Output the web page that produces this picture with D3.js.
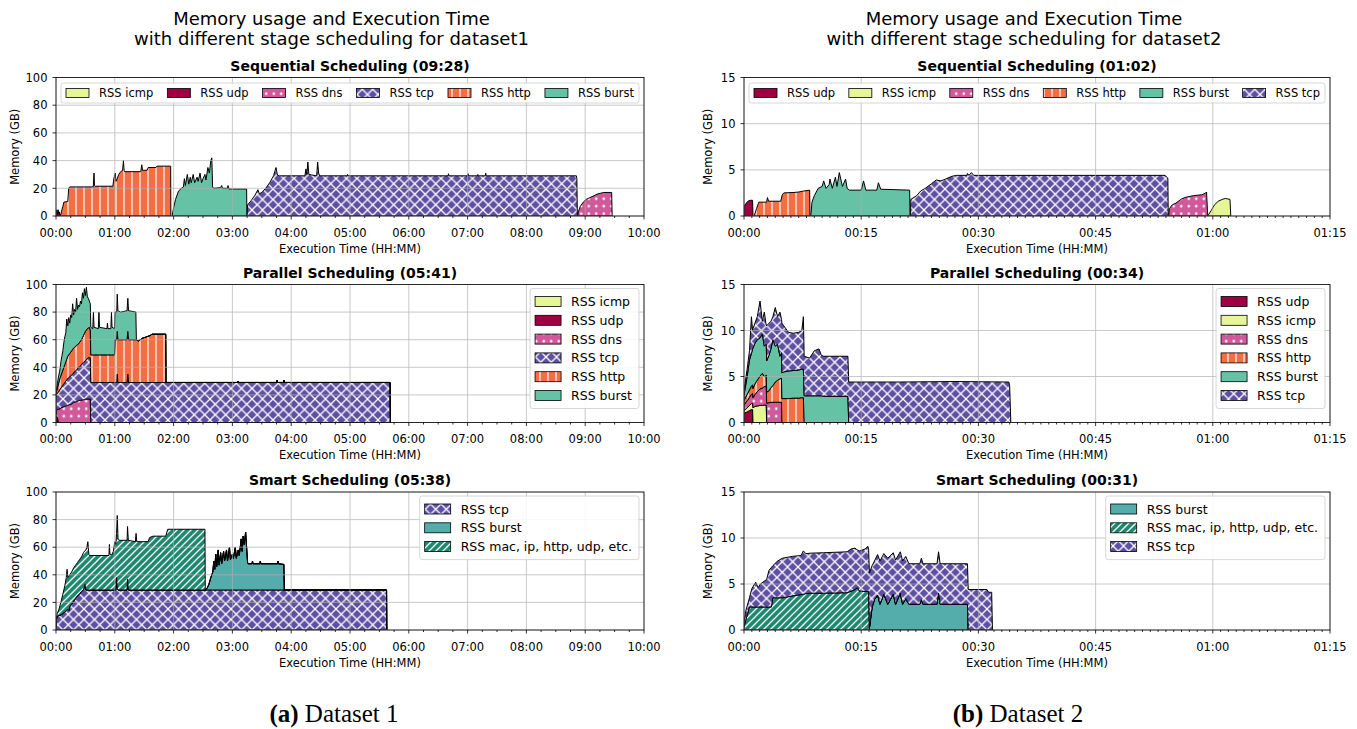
<!DOCTYPE html>
<html><head><meta charset="utf-8">
<script src="https://cdn.jsdelivr.net/npm/d3@7"></script>
<style>body{margin:0;background:#fff} svg text{font-family:"DejaVu Sans",sans-serif}</style>
</head><body>
<svg id="c" width="1357" height="729"></svg>
<script>
// ---------------- DATA (time in minutes, memory in GB) ----------------
const d1XTicks = [0,60,120,180,240,300,360,420,480,540,600];
const d2XTicks = [0,15,30,45,60,75];
const d1YTicks = [0,20,40,60,80,100];
const d2YTicks = [0,5,10,15];
const suptitles = ["Memory usage and Execution Time", "with different stage scheduling for dataset1", "with different stage scheduling for dataset2"];
const panelTitles = ["Sequential Scheduling (09:28)","Parallel Scheduling (05:41)","Smart Scheduling (05:38)",
                     "Sequential Scheduling (01:02)","Parallel Scheduling (00:34)","Smart Scheduling (00:31)"];

// Dataset 1 - sequential ([minute, GB])
const d1SeqUdp = [[0,0],[0.3,2.5],[0.9,4.5],[1.5,1],[2.2,4.5],[2.8,1.5],[3.4,3],[3.8,0]];
const d1SeqIcmp = [[3.8,0],[4.1,1.2],[4.4,1.0],[4.6,0]];
const d1SeqHttp = [[4.5,0],[5.5,3],[7,7],[8,10],[12,10.5],[13,20],[14,21],[38,21],[38.8,31],[39.3,22],[40,21.5],[58,21.5],[59,27],[60.5,31],[61.2,25],[62.5,27],[64,30],[66,32],[68,33],[68.8,40],[69.5,33],[70,32],[86.5,32],[87.5,37],[88.3,33],[93,33],[94,35],[102,35],[103,36],[117,36],[117.2,0]];
const d1SeqBurst = [[118.5,0],[120,6],[122,12],[125,18],[128,20],[130,21],[131,27],[132,22],[134,30],[135.5,23],[137,28],[138,24],[140,30],[141.5,24],[144,28],[145,25],[147,31],[148.5,24],[150,27],[152,30],[153,26],[155,35],[156.5,31],[158,40],[159,42],[159.8,21],[161,20],[168,20.5],[169,22],[170,20],[175,20],[175.5,22],[176.5,19.5],[194.5,19.5],[194.8,0]];
const d1SeqTcp = [[195,0],[195.5,8],[199,11],[203,15],[206,19],[207.5,16],[210,17],[214,20],[218,24],[222,29],[224.5,35],[226,29.5],[228,29],[254,29],[255,34],[256,30],[257,39],[258,30],[266,29],[267,39],[268,31],[269,29],[297,29],[297.5,30],[298,29],[400,29],[400.5,30.5],[401,29],[420,29],[420.5,30.5],[421,29],[430,29],[430.5,30],[431,29],[438,29],[438.5,31],[439,29],[531,29],[531.5,27],[532,0]];
const d1SeqDns = [[532.5,0],[533,3],[535,7],[538,10],[541,12],[544,13],[547,14],[550,15],[553,16],[556,16.5],[559,17],[567,17],[567.5,0]];

// Dataset 1 - parallel (common time grid, stacked icmp, udp, dns, tcp, http, burst)
const d1ParTime = [0,0.5,1.5,2.5,4,5,6,7,8,9, 10,11,12,13,14,15,16,17,18,19, 20,21,22,23,24,25,26,27,28,29,
  30,31,32,33,34,35,35.5,37.5,38.2,38.8, 43.2,43.8,44.4,52,52.5,53,56,56.6,57.2,59.7, 60.2,62,62.5,63.2,66,72.5,73.3,74,81.5,82,
  84,86,88,92,96,98,112,112.3,185,185.5, 186,225,225.5,226,232,232.5,233,340.8,341,341.2];
const d1ParIcmp = [0.5,0.5,0.5,0,0,0,0,0,0,0, 0,0,0,0,0,0,0,0,0,0, 0,0,0,0,0,0,0,0,0,0, 0,0,0,0,0,0,0,0,0,0,
  0,0,0,0,0,0,0,0,0,0, 0,0,0,0,0,0,0,0,0,0, 0,0,0,0,0,0,0,0,0,0, 0,0,0,0,0,0,0,0,0,0];
const d1ParUdp = [3,4,3,0,0,0,0,0,0,0, 0,0,0,0,0,0,0,0,0,0, 0,0,0,0,0,0,0,0,0,0, 0,0,0,0,0,0,0,0,0,0,
  0,0,0,0,0,0,0,0,0,0, 0,0,0,0,0,0,0,0,0,0, 0,0,0,0,0,0,0,0,0,0, 0,0,0,0,0,0,0,0,0,0];
const d1ParDns = [2,4,6,9.5,10,10.5,11,11.2,11.5,11.8, 12,12.2,12.5,12.8,13,13.2,13.5,14,14.5,14.8, 15,15.2,15.5,15.8,16,16.1,16.2,16.4,16.5,16.8,
  17,17,17,17,17,17,0,0,0,0, 0,0,0,0,0,0,0,0,0,0, 0,0,0,0,0,0,0,0,0,0, 0,0,0,0,0,0,0,0,0,0, 0,0,0,0,0,0,0,0,0,0];
const d1ParTcp = [13,12,12,12.5,14,14.5,15,15.8,16.5,17.2, 18,18.8,19.5,19.7,20,20.8,21,21,21.5,22.2, 22.5,22.8,23.5,24.2,24.5,24.9,25.8,26.6,27,27.2,
  28,28.5,29.5,30,30,30,29,29,29,29, 29,29,29,29,29,29,29,29,29,29, 29,29,35,29,29,29,35,29,29,29,
  29,29,29,29,29,29,29,29,29,30, 29,29,30.5,29,29,30.5,29,29,28,0];
const d1ParHttp = [1,2,4,6,8,9,10,11,12,13, 14,15,16,16.5,17,17,17.5,18,18,17.5, 17.5,18,17.5,17,17.5,18,18,18.5,19.5,20.5,
  21,21.5,21.5,21.5,22,20,20,20,20,20, 20,20,20,20,20,20,20,20,20,20, 31,31,31,31,31,31,31,31,31,31,
  30,31,32,33,34,35,35,0,0,0, 0,0,0,0,0,0,0,0,0,0];
const d1ParBurst = [1,1,3,5,6,10,12,14,18,20, 21,29,22,27,22,27,24,33,24,27.5, 25,34,25.5,28,26,29,26,32.5,27,32.5,
  26,31,23,21.5,19,19,20,19,31,20, 19,31,20,19,23,19,19,31,20,19, 20,20,27,21,20,21,24,21,20,0,
  0,0,0,0,0,0,0,0,0,0, 0,0,0,0,0,0,0,0,0,0];

// Dataset 1 - smart (stacked tcp, burst, mac...)
const d1SmartTime = [0,0.5,1.3,3,5,7,9,10.5,11.3,12, 13,14,16,18,20,22,24,26,28,29.5, 30.5,31.5,32.5,33.5,34,54,54.5,55,57,58.5,
  60,61,61.8,62.5,63.3,65,72.5,73,73.8,81, 81.7,82.4,94,95.5,99,112,114,152,152.3,154, 156,158,160,161,162,163,164,165.5,166.5,168,
  169,171,172,174,175,177,178,180,181,183, 184,186,187,189,190,191,192,193.5,194.5,195.5, 196,200,200.5,201,208,208.5,209,226,226.5,227,
  232.5,233,337.3,337.5];
const d1SmartTcp = [2,8,10,10.5,11,12,13,14,14.5,15, 14,17,19,21,23,25,26,28,29,33, 29,29,29,29,29,29,29,29,29,29,
  29,29,38,30,29,29,29,37,29,29, 29,29,29,29,29,29,29,29,29,29, 29,29,29,29,29,29,29,29,29,29,
  29,29,29,29,29,29,29,29,29,29, 29,29,29,29,29,29,29,29,29,29, 29,29,29,29,29,29,29,29,29,29, 29,29,29,0];
const d1SmartBurst = [0,0,0,0,0,0,0,0,0,0, 0,0,0,0,0,0,0,0,0,0, 0,0,0,0,0,0,0,0,0,0, 0,0,0,0,0,0,0,0,0,0,
  0,0,0,0,0,0,0,0,0,1, 4,9,13,21,15,26,17,29,18,27, 19,28,21,29,21,31,22,26,23,31, 23,29,25,37,28,39,33,42,31,20,
  19,19,21,19,19,21,19,19,21,19, 18.5,0,0,0];
const d1SmartMac = [2,1,2,4.5,9,14,19,24,29.5,23, 25,23,23,24,24,24,25,25,27,24.5, 29,31,35,26,25,25,33,26,25.5,28,
  35,33,32,53,37,36,36,38,36,35, 41,35,35,38,39,39,44,44,0,0, 0,0,0,0,0,0,0,0,0,0,
  0,0,0,0,0,0,0,0,0,0, 0,0,0,0,0,0,0,0,0,0, 0,0,0,0,0,0,0,0,0,0, 0,0,0,0];

// Dataset 2 - sequential
const d2SeqUdp = [[0,0],[0.02,1.0],[0.2,1.3],[0.5,1.6],[0.8,1.7],[1.1,1.7],[1.15,0]];
const d2SeqHttp = [[1.3,0],[1.6,0.8],[1.9,1.5],[2.9,1.5],[3.0,2.0],[3.15,1.6],[4.7,1.6],[4.9,2.3],[5.1,2.5],[6.4,2.55],[7.0,2.6],[7.6,2.7],[8.4,2.8],[8.45,0]];
const d2SeqBurst = [[8.55,0],[8.7,1.5],[9.0,2.2],[9.5,3.0],[10.0,3.2],[10.2,3.8],[10.5,3.0],[10.9,3.4],[11.0,4.0],[11.3,3.0],[11.7,4.2],[11.9,3.2],[12.2,4.7],[12.6,3.2],[13.0,4.0],[13.2,3.0],[13.5,2.8],[15.0,2.8],[15.3,3.8],[15.6,2.8],[17.0,2.8],[17.2,3.6],[17.5,2.9],[21.2,2.8],[21.25,0]];
const d2SeqTcp = [[21.3,0],[21.35,1.8],[22.1,2.2],[22.6,2.7],[23.2,3.0],[24.0,3.5],[24.6,3.9],[25.2,3.8],[25.8,4.0],[26.6,4.3],[27.2,4.4],[28.5,4.4],[28.6,4.6],[28.8,4.4],[29.1,4.7],[29.4,4.4],[53.9,4.4],[54.1,4.2],[54.25,4.1],[54.3,0]];
const d2SeqDns = [[54.35,0],[54.45,0.8],[54.8,1.2],[55.3,1.4],[55.9,1.8],[56.4,2.0],[57.5,2.2],[58.6,2.3],[59.1,2.5],[59.2,2.6],[59.35,0]];
const d2SeqIcmp = [[59.35,0],[59.8,0.6],[60.2,1.2],[60.7,1.6],[61.2,1.8],[61.6,1.9],[62.2,1.8],[62.3,0]];

// Dataset 2 - parallel (stacked udp, icmp, dns, http, burst, tcp)
const d2ParTime = [0,0.4,0.7,0.95,1.1,1.15,1.4,1.7,2.05,2.35, 2.6,2.8,2.85,2.9,3.2,3.45,3.7,4.0,4.3,4.6,
  4.8,4.85,5.1,5.7,6.3,7.0,7.4,7.6,7.7,8.4, 9.0,9.6,9.9,10.2,13.3,13.4,20,27,33.9,34.0, 34.15];
const d2ParUdp = [1.0,1.15,1.3,1.4,1.4,0,0,0,0,0, 0,0,0,0,0,0,0,0,0,0, 0,0,0,0,0,0,0,0,0,0, 0,0,0,0,0,0,0,0,0,0, 0];
const d2ParIcmp = [0.3,0.45,0.55,0.65,0.7,1.6,1.75,1.8,1.85,1.85, 1.9,1.9,1.9,0,0,0,0,0,0,0, 0,0,0,0,0,0,0,0,0,0, 0,0,0,0,0,0,0,0,0,0, 0];
const d2ParDns = [0.6,0.75,0.9,1.0,1.05,1.1,1.3,1.55,1.8,1.9, 2.0,2.05,2.1,2.1,2.15,2.2,2.2,2.2,2.2,2.2, 2.2,0,0,0,0,0,0,0,0,0, 0,0,0,0,0,0,0,0,0,0, 0];
const d2ParHttp = [0.5,0.7,0.8,0.9,0.95,1.0,1.15,1.25,1.4,1.6, 1.1,1.1,1.15,1.2,1.3,1.6,1.8,2.2,2.4,2.55, 2.6,2.6,2.6,2.6,2.65,2.65,2.7,2.7,0,0, 0,0,0,0,0,0,0,0,0,0, 0];
const d2ParBurst = [0.6,1.95,3.25,3.55,3.9,4.4,4.4,4.4,4.15,4.25, 3.3,3.45,3.35,3.4,3.85,4.2,5.0,3.9,3.9,2.45, 2.8,2.8,2.9,3.0,3.0,3.05,3.1,3.1,2.9,2.9, 2.9,2.9,2.9,2.85,2.85,0,0,0,0,0, 0];
const d2ParTcp = [0.5,0.8,1.0,4.0,2.0,2.1,2.2,2.5,4.0,1.4, 3.7,2.3,2.1,3.8,3.5,3.0,2.5,4.2,3.0,4.8, 3.6,5.4,5.0,4.2,4.05,4.1,4.2,5.7,4.3,4.1, 4.9,5.1,4.4,4.35,4.35,4.4,4.4,4.45,4.4,4.0, 0];

// Dataset 2 - smart (stacked burst, mac..., tcp)
const d2SmartTime = [0,0.2,0.7,1.0,1.5,1.8,2.1,2.9,3.2,3.5, 3.7,4.3,4.9,6.2,7.3,7.6,7.9,8.5,10.2,13.2,
  13.7,14.2,14.5,14.8,15.5,15.85,15.95,16.05,16.4,16.7, 17.1,17.4,17.9,18.4,19.1,19.4,20.0,20.3,20.7,21.1,
  22.5,22.7,22.9,24.7,24.9,25.1,28.6,28.7,31.1,31.3, 31.7,31.8];
const d2SmartBurst = [0,0,0,0,0,0,0,0,0,0, 0,0,0,0,0,0,0,0,0,0, 0,0,0,0,0,0,0,0.2,2.5,3.3,
  3.8,2.8,3.9,2.8,3.9,2.8,4.0,2.8,3.4,2.8, 2.8,3.3,2.8,2.8,4.0,2.8,2.8,0,0,0, 0,0];
const d2SmartMac = [0.3,1.0,2.5,2.5,2.5,2.5,2.5,2.5,2.5,2.5, 3.5,3.5,3.5,3.7,3.85,3.9,3.95,4.0,4.0,4.05,
  4.2,4.4,4.6,4.2,4.2,4.2,4.2,0,0,0, 0,0,0,0,0,0,0,0,0,0, 0,0,0,0,0,0,0,0,0,0, 0,0];
const d2SmartTcp = [0.5,1.0,1.0,2.0,2.7,2.1,2.5,3.0,4.0,4.3, 3.5,4.0,4.3,4.3,4.25,4.7,4.35,4.35,4.4,4.45,
  4.6,4.5,4.1,4.4,4.6,4.9,4.6,6.0,4.5,4.2, 4.4,4.7,4.4,5.0,4.5,4.8,4.5,4.7,4.6,4.4,
  4.4,4.5,4.4,4.4,4.5,4.4,4.4,4.4,4.4,4.1, 4.1,0];

// ---------------- STYLE ----------------
const COLORS = {icmp:'#e6f598', udp:'#9e0142', dns:'#d1589a', tcp:'#5e4fa2', http:'#f46d43', burst:'#66c2a5', burstS:'#55adab', mac:'#1b8a6e'};
const FILL = {icmp:COLORS.icmp, udp:COLORS.udp, dns:'url(#p-dns)', tcp:'url(#p-tcp)', http:'url(#p-http)', burst:COLORS.burst, burstS:COLORS.burstS, mac:'url(#p-mac)'};
const LABEL = {icmp:'RSS icmp', udp:'RSS udp', dns:'RSS dns', tcp:'RSS tcp', http:'RSS http', burst:'RSS burst', burstS:'RSS burst', mac:'RSS mac, ip, http, udp, etc.'};

const svg = d3.select('#c');
const defs = svg.append('defs');
{
  const s = 10.5;
  const p1 = defs.append('pattern').attr('id','p-tcp').attr('patternUnits','userSpaceOnUse').attr('width',s).attr('height',s);
  p1.append('rect').attr('width',s).attr('height',s).attr('fill',COLORS.tcp);
  p1.append('path').attr('d',`M0,0L${s},${s}M${s},0L0,${s}`).attr('stroke','#fff').attr('stroke-width',1.3);
  const p2 = defs.append('pattern').attr('id','p-http').attr('patternUnits','userSpaceOnUse').attr('width',8).attr('height',10);
  p2.append('rect').attr('width',8).attr('height',10).attr('fill',COLORS.http);
  p2.append('path').attr('d','M4,0L4,10').attr('stroke','#fff').attr('stroke-width',1.2);
  const p3 = defs.append('pattern').attr('id','p-dns').attr('patternUnits','userSpaceOnUse').attr('width',7.5).attr('height',7.5);
  p3.append('rect').attr('width',7.5).attr('height',7.5).attr('fill',COLORS.dns);
  p3.append('circle').attr('cx',3.75).attr('cy',3.75).attr('r',1.3).attr('fill','#fff');
  const p4 = defs.append('pattern').attr('id','p-mac').attr('patternUnits','userSpaceOnUse').attr('width',7).attr('height',7);
  p4.append('rect').attr('width',7).attr('height',7).attr('fill',COLORS.mac);
  p4.append('path').attr('d','M0,7L7,0M-1,1L1,-1M6,8L8,6').attr('stroke','#fff').attr('stroke-width',1.3);
}

const fmtHM = m => String(Math.floor(m/60)).padStart(2,'0') + ':' + String(m%60).padStart(2,'0');
let clipN = 0;
const TICK_FS = 11.5;

function drawPanel(p) {
  const x = d3.scaleLinear().domain([0, p.xMax]).range([p.x0, p.x1]);
  const y = d3.scaleLinear().domain([0, p.yMax]).range([p.y1, p.y0]);
  const id = 'clip' + (++clipN);
  defs.append('clipPath').attr('id', id).append('rect')
    .attr('x', p.x0).attr('y', p.y0).attr('width', p.x1 - p.x0).attr('height', p.y1 - p.y0);
  const g = svg.append('g');
  const plot = g.append('g').attr('clip-path', `url(#${id})`);

  if (p.stack) {
    const rows = p.stack.time.map((t, i) => {
      const r = {t};
      p.stack.keys.forEach((k, j) => r[k] = p.stack.values[j][i]);
      return r;
    });
    const series = d3.stack().keys(p.stack.keys)(rows);
    const area = d3.area().x(d => x(d.data.t)).y0(d => y(d[0])).y1(d => y(d[1]));
    plot.selectAll('path.s').data(series).join('path')
      .attr('d', area).attr('fill', d => FILL[p.stack.fills[d.index]])
      .attr('stroke', '#000').attr('stroke-width', 1).attr('stroke-linejoin', 'round');
  }
  if (p.seq) {
    const area = d3.area().x(d => x(d[0])).y0(y(0)).y1(d => y(d[1]));
    p.seq.forEach(s => {
      plot.append('path').datum(s.data).attr('d', area).attr('fill', FILL[s.key])
        .attr('stroke', '#000').attr('stroke-width', 1).attr('stroke-linejoin', 'round');
    });
  }
  // grid (drawn above fills like matplotlib)
  const grid = g.append('g').attr('stroke', '#b0b0b0').attr('stroke-width', 0.8).attr('opacity', 0.85);
  p.xTicks.forEach(v => grid.append('line').attr('x1', x(v)).attr('x2', x(v)).attr('y1', p.y0).attr('y2', p.y1));
  p.yTicks.forEach(v => grid.append('line').attr('x1', p.x0).attr('x2', p.x1).attr('y1', y(v)).attr('y2', y(v)));
  // frame
  g.append('rect').attr('x', p.x0).attr('y', p.y0).attr('width', p.x1 - p.x0).attr('height', p.y1 - p.y0)
    .attr('fill', 'none').attr('stroke', '#000').attr('stroke-width', 0.8);
  // ticks
  const tk = g.append('g').attr('stroke', '#000').attr('stroke-width', 0.8);
  p.xTicks.forEach(v => tk.append('line').attr('x1', x(v)).attr('x2', x(v)).attr('y1', p.y1).attr('y2', p.y1 + 3.5));
  d3.range(0, p.xMax + 0.001, p.minor).filter(v => !p.xTicks.includes(v))
    .forEach(v => tk.append('line').attr('x1', x(v)).attr('x2', x(v)).attr('y1', p.y1).attr('y2', p.y1 + 2));
  p.yTicks.forEach(v => tk.append('line').attr('x1', p.x0 - 3.5).attr('x2', p.x0).attr('y1', y(v)).attr('y2', y(v)));
  // tick labels
  p.xTicks.forEach(v => g.append('text').attr('x', x(v)).attr('y', p.y1 + 20.5).attr('text-anchor', 'middle')
    .attr('font-size', TICK_FS).text(fmtHM(v)));
  p.yTicks.forEach(v => g.append('text').attr('x', p.x0 - 8.5).attr('y', y(v) + 4.2).attr('text-anchor', 'end')
    .attr('font-size', TICK_FS).text(v));
  // axis labels
  g.append('text').attr('x', (p.x0 + p.x1) / 2).attr('y', p.y1 + 36.5).attr('text-anchor', 'middle')
    .attr('font-size', 11.5).text('Execution Time (HH:MM)');
  const ym = (p.y0 + p.y1) / 2;
  g.append('text').attr('transform', `translate(${p.ylabX + 4},${ym}) rotate(-90)`).attr('text-anchor', 'middle')
    .attr('font-size', 11.5).text('Memory (GB)');
  // title
  g.append('text').attr('x', (p.x0 + p.x1) / 2).attr('y', p.y0 - 7).attr('text-anchor', 'middle')
    .attr('font-size', 14).attr('font-weight', 'bold').text(p.title);
  // legend
  if (p.legend.mode === 'row') legendRow(p.legend.keys, p.x0 + 5, p.x1 - 5, p.y0 + 5.5, 11.5);
  else legendCol(p.legend.keys, p.x1 - 5, p.y0 + 4, 12.5);
}

function legendFrame(g) {
  return g.append('rect').attr('rx', 2.5).attr('fill', 'white').attr('fill-opacity', 0.85)
    .attr('stroke', '#cccccc').attr('stroke-width', 0.8);
}
function legendRow(keys, x0, x1, yTop, fs) {
  const g = svg.append('g');
  const h = 20, pw = 23, ph = 9, gap = 10, pad = 5;
  legendFrame(g).attr('x', x0).attr('y', yTop).attr('width', x1 - x0).attr('height', h);
  const cy = yTop + h / 2;
  const texts = keys.map(k => g.append('text').attr('font-size', fs).attr('y', cy + fs * 0.36).text(LABEL[k]));
  const widths = texts.map(t => t.node().getComputedTextLength());
  const total = d3.sum(widths) + keys.length * (pw + gap);
  const space = (x1 - x0 - 2 * pad - total) / (keys.length - 1);
  let cx = x0 + pad;
  keys.forEach((k, i) => {
    g.append('rect').attr('x', cx).attr('y', cy - ph / 2).attr('width', pw).attr('height', ph)
      .attr('fill', FILL[k]).attr('stroke', '#000').attr('stroke-width', 0.8);
    texts[i].attr('x', cx + pw + gap);
    cx += pw + gap + widths[i] + space;
  });
}
function legendCol(keys, xRight, yTop, fs) {
  const g = svg.append('g');
  const pw = 26, ph = 10, gap = 10, padL = 5, padR = 7, rowH = 18.8, first = 13;
  const frame = legendFrame(g);
  const texts = keys.map((k, i) => g.append('text').attr('font-size', fs)
    .attr('y', yTop + first + i * rowH + fs * 0.36).text(LABEL[k]));
  const maxW = d3.max(texts, t => t.node().getComputedTextLength());
  const w = padL + pw + gap + maxW + padR, h = 2 * first + rowH * (keys.length - 1);
  const bx = xRight - w;
  frame.attr('x', bx).attr('y', yTop).attr('width', w).attr('height', h);
  keys.forEach((k, i) => {
    const cy = yTop + first + i * rowH;
    g.append('rect').attr('x', bx + padL).attr('y', cy - ph / 2).attr('width', pw).attr('height', ph)
      .attr('fill', FILL[k]).attr('stroke', '#000').attr('stroke-width', 0.8);
    texts[i].attr('x', bx + padL + pw + gap);
  });
}

// ---------------- LAYOUT ----------------
const L = {x0: 56, x1: 644, ylabX: 15, xMax: 600, xTicks: d1XTicks, minor: 15, yMax: 100, yTicks: d1YTicks};
const R = {x0: 744, x1: 1330, ylabX: 708, xMax: 75, xTicks: d2XTicks, minor: 1, yMax: 15, yTicks: d2YTicks};
const ROWS = [[77.5, 216], [284.5, 422.5], [492, 630]];

// length sanity check
const checks = [[d1ParTime,[d1ParIcmp,d1ParUdp,d1ParDns,d1ParTcp,d1ParHttp,d1ParBurst]],
  [d1SmartTime,[d1SmartTcp,d1SmartBurst,d1SmartMac]],
  [d2ParTime,[d2ParUdp,d2ParIcmp,d2ParDns,d2ParHttp,d2ParBurst,d2ParTcp]],
  [d2SmartTime,[d2SmartBurst,d2SmartMac,d2SmartTcp]]];
const bad = [];
checks.forEach((c, i) => c[1].forEach((a, j) => { if (a.length !== c[0].length) bad.push(`${i}-${j}:${a.length}/${c[0].length}`); }));

drawPanel({...L, y0: ROWS[0][0], y1: ROWS[0][1], title: panelTitles[0],
  seq: [{key:'udp', data:d1SeqUdp},{key:'icmp', data:d1SeqIcmp},{key:'http', data:d1SeqHttp},{key:'burst', data:d1SeqBurst},{key:'tcp', data:d1SeqTcp},{key:'dns', data:d1SeqDns}],
  legend: {mode:'row', keys:['icmp','udp','dns','tcp','http','burst']}});
drawPanel({...L, y0: ROWS[1][0], y1: ROWS[1][1], title: panelTitles[1],
  stack: {time: d1ParTime, keys:['icmp','udp','dns','tcp','http','burst'], fills:['icmp','udp','dns','tcp','http','burst'],
    values:[d1ParIcmp,d1ParUdp,d1ParDns,d1ParTcp,d1ParHttp,d1ParBurst]},
  legend: {mode:'col', keys:['icmp','udp','dns','tcp','http','burst']}});
drawPanel({...L, y0: ROWS[2][0], y1: ROWS[2][1], title: panelTitles[2],
  stack: {time: d1SmartTime, keys:['tcp','burst','mac'], fills:['tcp','burstS','mac'], values:[d1SmartTcp,d1SmartBurst,d1SmartMac]},
  legend: {mode:'col', keys:['tcp','burstS','mac']}});

drawPanel({...R, y0: ROWS[0][0], y1: ROWS[0][1], title: panelTitles[3],
  seq: [{key:'udp', data:d2SeqUdp},{key:'http', data:d2SeqHttp},{key:'burst', data:d2SeqBurst},{key:'tcp', data:d2SeqTcp},{key:'dns', data:d2SeqDns},{key:'icmp', data:d2SeqIcmp}],
  legend: {mode:'row', keys:['udp','icmp','dns','http','burst','tcp']}});
drawPanel({...R, y0: ROWS[1][0], y1: ROWS[1][1], title: panelTitles[4],
  stack: {time: d2ParTime, keys:['udp','icmp','dns','http','burst','tcp'], fills:['udp','icmp','dns','http','burst','tcp'],
    values:[d2ParUdp,d2ParIcmp,d2ParDns,d2ParHttp,d2ParBurst,d2ParTcp]},
  legend: {mode:'col', keys:['udp','icmp','dns','http','burst','tcp']}});
drawPanel({...R, y0: ROWS[2][0], y1: ROWS[2][1], title: panelTitles[5],
  stack: {time: d2SmartTime, keys:['burst','mac','tcp'], fills:['burstS','mac','tcp'], values:[d2SmartBurst,d2SmartMac,d2SmartTcp]},
  legend: {mode:'col', keys:['burstS','mac','tcp']}});

// super titles
[[331.5, suptitles[1]], [1024, suptitles[2]]].forEach(([cx, line2]) => {
  svg.append('text').attr('x', cx).attr('y', 24.5).attr('text-anchor', 'middle').attr('font-size', 18).text(suptitles[0]);
  svg.append('text').attr('x', cx).attr('y', 45).attr('text-anchor', 'middle').attr('font-size', 18).text(line2);
});
// captions
[[334, '(a)', ' Dataset 1'], [1018, '(b)', ' Dataset 2']].forEach(([cx, a, b]) => {
  const t = svg.append('text').attr('x', cx).attr('y', 722).attr('text-anchor', 'middle')
    .attr('font-size', 25).style('font-family', '"Liberation Serif", "DejaVu Serif", serif');
  t.append('tspan').attr('font-weight', 'bold').text(a);
  t.append('tspan').text(b);
});
if (bad.length) svg.append('text').attr('x', 10).attr('y', 700).attr('fill', 'red').attr('font-size', 14).text('LEN MISMATCH ' + bad.join(' '));
</script>
</body></html>
